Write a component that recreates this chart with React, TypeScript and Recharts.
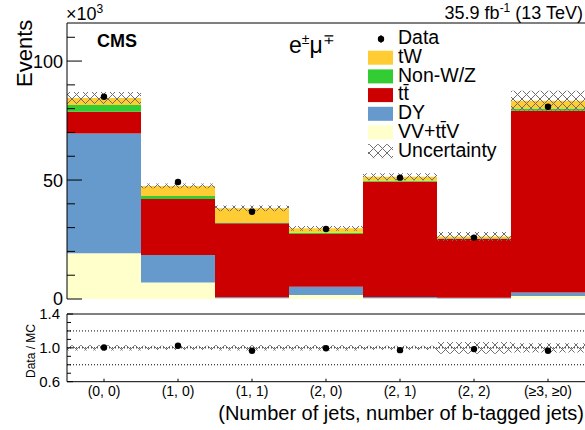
import { ComposedChart, Bar, Line, XAxis, YAxis, ReferenceLine } from 'recharts';

const FONT = '"Liberation Sans", Arial, Helvetica, sans-serif';

// bins: (number of jets, number of b-tagged jets)
const categories = ['(0, 0)', '(1, 0)', '(1, 1)', '(2, 0)', '(2, 1)', '(2, 2)', '(≥3, ≥0)'];

// expected yields, thousands of events, stacked bottom -> top
const vvTtv = [19.2, 6.9, 0.3, 1.7, 0.3, 0.2, 1.3];
const dy = [50.4, 11.6, 0.4, 3.5, 0.5, 0.3, 1.4];
const ttbar = [9.1, 23.5, 31.1, 22.1, 48.5, 24.8, 76.4];
const nonWZ = [2.8, 1.3, 0.3, 0.5, 0.4, 0.2, 1.0];
const tW = [3.0, 4.2, 6.0, 1.9, 1.7, 0.8, 3.2];
const mcUnc = [2.5, 1.0, 1.2, 1.0, 1.5, 1.9, 4.2];
const dataYield = [85.0, 49.2, 36.7, 29.4, 51.0, 25.8, 80.8];

// ratio panel
const ratio = [1.005, 1.024, 0.965, 0.995, 0.973, 0.985, 0.965];
const ratioUnc = [0.03, 0.025, 0.03, 0.03, 0.025, 0.07, 0.055];

const yTicks = [0, 10, 20, 30, 40, 50, 60, 70, 80, 90, 100, 110];
const yMajor = [0, 50, 100];
const ratioTicks = [0.6, 0.7, 0.8, 0.9, 1.0, 1.1, 1.2, 1.3, 1.4];
const ratioMajor = [0.6, 1.0, 1.4];
const ratioGrid = [0.8, 1.0, 1.2];

const colors = {
  tW: '#ffcc33',
  nonWZ: '#33cc33',
  tt: '#cc0000',
  dy: '#6699cc',
  vv: '#ffffcc',
};

const table = categories.map((cat, i) => {
  const total = vvTtv[i] + dy[i] + ttbar[i] + nonWZ[i] + tW[i];
  return {
    cat,
    vv: vvTtv[i],
    dy: dy[i],
    tt: ttbar[i],
    nonWZ: nonWZ[i],
    tW: tW[i],
    unc: [total - mcUnc[i], total + mcUnc[i]],
    data: dataYield[i],
    ratio: ratio[i],
    ratioBand: [1 - ratioUnc[i], 1 + ratioUnc[i]],
  };
});

// minor ticks on the bin axis: 5 per bin, the middle one is long
const binTicks: number[] = [];
categories.forEach((_, i) => {
  [0.1, 0.3, 0.5, 0.7, 0.9].forEach((f) => binTicks.push(i + f));
});

const MainYTick = (props: any) => {
  const { x, y, payload } = props;
  const major = yMajor.includes(payload.value);
  return (
    <g>
      <line x1={x} x2={x + (major ? 15 : 8)} y1={y} y2={y} stroke="#000" />
      {major && (
        <text x={x - 4} y={y} dy="0.36em" textAnchor="end" fontSize={18} fontFamily={FONT} fill="#000">
          {payload.value}
        </text>
      )}
    </g>
  );
};

const BinTick = (props: any) => {
  const { x, y, payload } = props;
  const major = Math.abs((payload.value % 1) - 0.5) < 1e-6;
  return <line x1={x} x2={x} y1={y} y2={y - (major ? 9 : 5)} stroke="#000" />;
};

const RatioYTick = (props: any) => {
  const { x, y, payload } = props;
  const major = ratioMajor.some((m) => Math.abs(m - payload.value) < 1e-6);
  return (
    <g>
      <line x1={x} x2={x + (major ? 6 : 4)} y1={y} y2={y} stroke="#000" />
      {major && (
        <text x={x - 7} y={y} dy="0.36em" textAnchor="end" fontSize={15} fontFamily={FONT} fill="#000">
          {Number(payload.value).toFixed(1)}
        </text>
      )}
    </g>
  );
};

const RatioXTick = (props: any) => {
  const { x, y, payload } = props;
  return (
    <g>
      <line x1={x} x2={x} y1={y} y2={y - 3} stroke="#000" />
      <text x={x} y={y + 14.5} textAnchor="middle" fontSize={14} fontFamily={FONT} fill="#000">
        {payload.value}
      </text>
    </g>
  );
};

const Hatch = ({ id }: { id: string }) => (
  <defs>
    <pattern id={id} width="9" height="9" patternUnits="userSpaceOnUse">
      <path d="M0,0L9,9M9,0L0,9" stroke="#6e6e6e" strokeWidth={1} fill="none" />
    </pattern>
  </defs>
);

const legendItems = [
  { label: 'tW', fill: colors.tW },
  { label: 'Non-W/Z', fill: colors.nonWZ },
  { label: 'tt\u0304', fill: colors.tt },
  { label: 'DY', fill: colors.dy },
  { label: 'VV+tt\u0304V', fill: colors.vv },
  { label: 'Uncertainty', fill: 'url(#hatchLegend)' },
];
const legendBaselines = [63, 81.7, 100.4, 119.1, 137.8, 156.5];

const App = () => {
  return (
    <div style={{ position: 'absolute', left: 0, top: 0, width: 585, height: 430, background: '#fff', fontFamily: FONT }}>
      <div style={{ position: 'absolute', left: 0, top: 0 }}>
        <ComposedChart
          width={585}
          height={310}
          data={table}
          margin={{ top: 22, right: 0, bottom: 10, left: 0 }}
          barCategoryGap={0}
          barGap={0}
        >
          <Hatch id="hatchMain" />
          <XAxis xAxisId="cat" dataKey="cat" hide />
          <XAxis xAxisId="band" dataKey="cat" hide />
          <XAxis
            xAxisId="num"
            type="number"
            domain={[0, 7]}
            ticks={binTicks}
            allowDataOverflow
            height={1}
            tickSize={0}
            tickMargin={0}
            tickLine={false}
            tick={<BinTick />}
            interval={0}
            axisLine={{ stroke: '#000' }}
          />
          <XAxis
            xAxisId="top"
            dataKey="cat"
            orientation="top"
            height={1}
            tick={false}
            tickLine={false}
            axisLine={{ stroke: '#000' }}
          />
          <YAxis
            domain={[0, 116]}
            ticks={yTicks}
            allowDataOverflow
            width={67}
            tickSize={0}
            tickMargin={0}
            tickLine={false}
            tick={<MainYTick />}
            interval={0}
            axisLine={{ stroke: '#000' }}
          />
          <Bar xAxisId="cat" dataKey="vv" stackId="mc" fill={colors.vv} isAnimationActive={false} />
          <Bar xAxisId="cat" dataKey="dy" stackId="mc" fill={colors.dy} isAnimationActive={false} />
          <Bar xAxisId="cat" dataKey="tt" stackId="mc" fill={colors.tt} isAnimationActive={false} />
          <Bar xAxisId="cat" dataKey="nonWZ" stackId="mc" fill={colors.nonWZ} isAnimationActive={false} />
          <Bar xAxisId="cat" dataKey="tW" stackId="mc" fill={colors.tW} isAnimationActive={false} />
          <Bar xAxisId="band" dataKey="unc" fill="url(#hatchMain)" isAnimationActive={false} />
          <Line
            xAxisId="cat"
            dataKey="data"
            stroke="none"
            dot={{ r: 3.2, fill: '#000', stroke: 'none' }}
            activeDot={false}
            isAnimationActive={false}
          />
        </ComposedChart>
      </div>

      <div style={{ position: 'absolute', left: 0, top: 300 }}>
        <ComposedChart
          width={585}
          height={130}
          data={table}
          margin={{ top: 13, right: 0, bottom: 47.3, left: 0 }}
          barCategoryGap={0}
          barGap={0}
        >
          <Hatch id="hatchRatio" />
          <XAxis
            xAxisId="cat"
            dataKey="cat"
            height={1}
            tickSize={0}
            tickMargin={0}
            tickLine={false}
            tick={<RatioXTick />}
            interval={0}
            axisLine={{ stroke: '#000' }}
          />
          <XAxis
            xAxisId="top"
            dataKey="cat"
            orientation="top"
            height={1}
            tick={false}
            tickLine={false}
            axisLine={{ stroke: '#000' }}
          />
          <YAxis
            domain={[0.6, 1.4]}
            ticks={ratioTicks}
            allowDataOverflow
            width={67}
            tickSize={0}
            tickMargin={0}
            tickLine={false}
            tick={<RatioYTick />}
            interval={0}
            axisLine={{ stroke: '#000' }}
          />
          {ratioGrid.map((v) => (
            <ReferenceLine key={v} xAxisId="cat" y={v} stroke="#000" strokeWidth={1} strokeDasharray="1 2" />
          ))}
          <Bar xAxisId="cat" dataKey="ratioBand" fill="url(#hatchRatio)" isAnimationActive={false} />
          <Line
            xAxisId="cat"
            dataKey="ratio"
            stroke="none"
            dot={{ r: 3.2, fill: '#000', stroke: 'none' }}
            activeDot={false}
            isAnimationActive={false}
          />
        </ComposedChart>
      </div>

      <svg width={585} height={430} style={{ position: 'absolute', left: 0, top: 0, pointerEvents: 'none' }} fontFamily={FONT}>
        <defs>
          <pattern id="hatchLegend" width="9" height="9" patternUnits="userSpaceOnUse">
            <path d="M0,0L9,9M9,0L0,9" stroke="#6e6e6e" strokeWidth={1} fill="none" />
          </pattern>
        </defs>
        <text x={66} y={20} fontSize={18}>
          ×10<tspan dy={-7} fontSize={12}>3</tspan>
        </text>
        <text x={583} y={18.5} fontSize={18} textAnchor="end">
          35.9 fb<tspan dy={-7} fontSize={12}>-1</tspan>
          <tspan dy={7}> (13 TeV)</tspan>
        </text>
        <text x={97} y={47} fontSize={18} fontWeight="bold">CMS</text>
        <text x={289} y={53} fontSize={23}>
          e<tspan dy={-9} fontSize={14}>±</tspan>
          <tspan dy={9}>μ</tspan>
          <tspan dy={-9} fontSize={14}>∓</tspan>
        </text>
        <text transform="translate(31.5,87) rotate(-90)" fontSize={22}>Events</text>
        <text transform="translate(35,378) rotate(-90)" fontSize={12}>Data / MC</text>
        <text x={584} y={420} fontSize={20} textAnchor="end">(Number of jets, number of b-tagged jets)</text>

        {/* legend */}
        <line x1={381} x2={381} y1={35} y2={43} stroke="#000" />
        <circle cx={381} cy={39} r={3.2} fill="#000" />
        <text x={398} y={43.5} fontSize={19.5}>Data</text>
        {legendItems.map((item, i) => (
          <g key={item.label}>
            <rect x={368} y={legendBaselines[i] - 12.3} width={25} height={14} fill={item.fill} />
            <text x={398} y={legendBaselines[i]} fontSize={19.5}>{item.label}</text>
          </g>
        ))}
      </svg>
    </div>
  );
};

export default App;
